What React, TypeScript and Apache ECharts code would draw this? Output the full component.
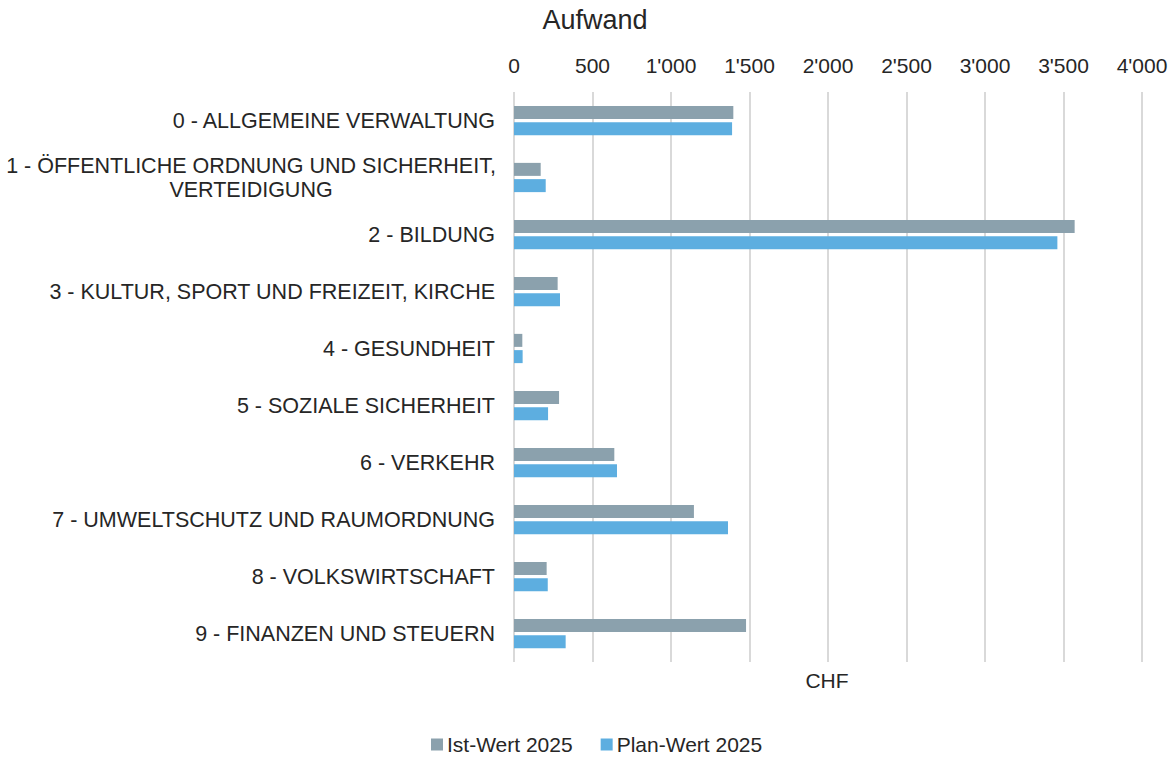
import React, { useEffect, useRef } from "react";
import * as echarts from "echarts";

const categories = [
  "0 - ALLGEMEINE VERWALTUNG",
  "1 - ÖFFENTLICHE ORDNUNG UND SICHERHEIT,\nVERTEIDIGUNG",
  "2 - BILDUNG",
  "3 - KULTUR, SPORT UND FREIZEIT, KIRCHE",
  "4 - GESUNDHEIT",
  "5 - SOZIALE SICHERHEIT",
  "6 - VERKEHR",
  "7 - UMWELTSCHUTZ UND RAUMORDNUNG",
  "8 - VOLKSWIRTSCHAFT",
  "9 - FINANZEN UND STEUERN",
];

const istWert2025 = [1397, 170, 3571, 278, 53, 287, 639, 1146, 208, 1478];
const planWert2025 = [1389, 202, 3461, 293, 55, 217, 656, 1363, 215, 329];

const seriesNames = ["Ist-Wert 2025", "Plan-Wert 2025"];
const chartTitle = "Aufwand";
const unitLabel = "CHF";

const FONT = "'Liberation Sans', Arial, sans-serif";
const TEXT = "#262626";

function fmt(v: number): string {
  return String(v).replace(/\B(?=(\d{3})+(?!\d))/g, "'");
}

export default function App() {
  const ref = useRef<HTMLDivElement>(null);
  useEffect(() => {
    if (!ref.current) return;
    const chart = echarts.init(ref.current, undefined, { renderer: "svg" });
    chart.setOption({
      animation: false,
      textStyle: { fontFamily: FONT },
      graphic: [
        {
          type: "text",
          x: 595,
          y: 20,
          style: {
            text: chartTitle,
            fontSize: 27,
            fontFamily: FONT,
            fill: TEXT,
            textAlign: "center",
            textVerticalAlign: "middle",
          },
        },
        {
          type: "text",
          x: 827,
          y: 680,
          style: {
            text: unitLabel,
            fontSize: 21,
            fontFamily: FONT,
            fill: TEXT,
            textAlign: "center",
            textVerticalAlign: "middle",
          },
        },
      ],
      legend: {
        data: seriesNames,
        left: 431,
        top: 734,
        padding: 0,
        itemWidth: 12,
        itemHeight: 12,
        itemGap: 28,
        icon: "rect",
        textStyle: { fontSize: 21, color: TEXT, fontFamily: FONT, padding: [0, 0, 0, -1] },
      },
      grid: { left: 514, right: 33, top: 92, bottom: 96, containLabel: false },
      xAxis: {
        type: "value",
        position: "top",
        min: 0,
        max: 4000,
        interval: 500,
        axisLine: { show: false },
        axisTick: { show: false },
        splitLine: { show: true, lineStyle: { color: "#D9D9D9", width: 2 } },
        axisLabel: {
          fontSize: 21,
          color: TEXT,
          fontFamily: FONT,
          margin: 16,
          formatter: (v: number) => fmt(v),
        },
      },
      yAxis: {
        type: "category",
        data: categories,
        inverse: true,
        axisLine: { show: false },
        axisTick: { show: false },
        axisLabel: {
          fontSize: 21.5,
          color: TEXT,
          fontFamily: FONT,
          margin: 19,
          lineHeight: 24,
          formatter: (v: string) => {
            if (v.indexOf("\n") >= 0) {
              return v
                .split("\n")
                .map((l) => "{c|" + l + "}")
                .join("\n");
            }
            return v;
          },
          rich: {
            c: {
              width: 488,
              align: "center",
              fontSize: 21.5,
              color: TEXT,
              fontFamily: FONT,
              lineHeight: 24,
            },
          },
        },
      },
      series: [
        {
          name: seriesNames[0],
          type: "bar",
          data: istWert2025,
          barWidth: 13,
          barGap: "25%",
          itemStyle: { color: "#8BA1AD" },
        },
        {
          name: seriesNames[1],
          type: "bar",
          data: planWert2025,
          barWidth: 13,
          barGap: "25%",
          itemStyle: { color: "#5DAEE0" },
        },
      ],
    });
    return () => chart.dispose();
  }, []);
  return (
    <div
      ref={ref}
      style={{ position: "absolute", left: 0, top: 0, width: 1175, height: 758 }}
    />
  );
}
